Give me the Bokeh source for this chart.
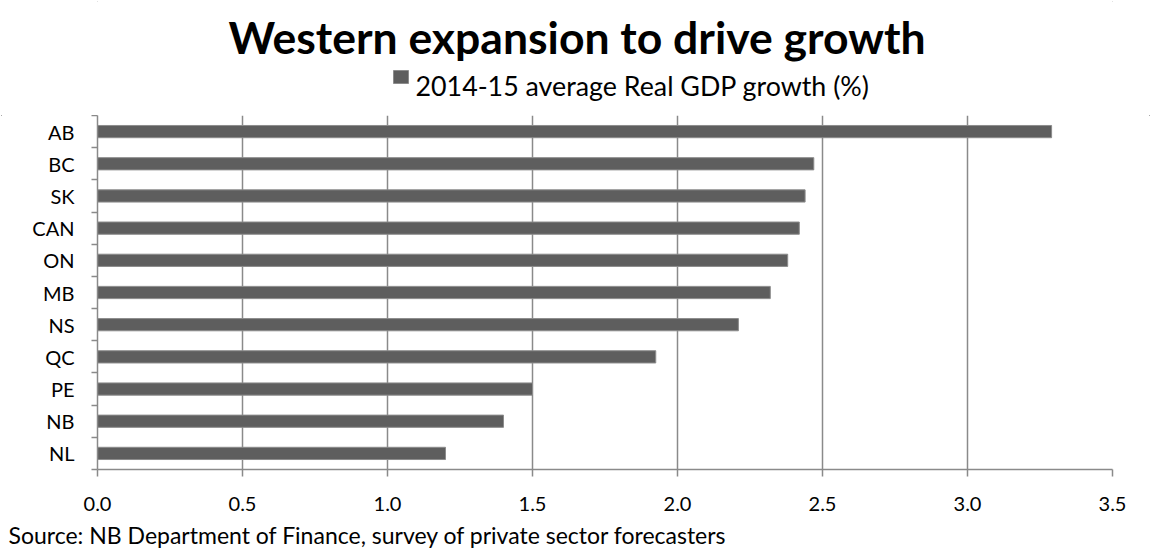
from bokeh.plotting import figure
from bokeh.layouts import column
from bokeh.models import FixedTicker, Title, ColumnDataSource, Range1d
from bokeh.core.properties import value
from bokeh.embed import file_html
from bokeh.resources import INLINE

# ---- data ----
regions = ["AB", "BC", "SK", "CAN", "ON", "MB", "NS", "QC", "PE", "NB", "NL"]
growth = [3.29, 2.47, 2.44, 2.42, 2.38, 2.32, 2.21, 1.925, 1.50, 1.40, 1.20]
x_ticks = [0.0, 0.5, 1.0, 1.5, 2.0, 2.5, 3.0, 3.5]
x_tick_labels = ["0.0", "0.5", "1.0", "1.5", "2.0", "2.5", "3.0", "3.5"]
title_text = "Western expansion to drive growth"
series_name = "2014-15 average Real GDP growth (%)"
source_note = "Source: NB Department of Finance, survey of private sector forecasters"

FONT = "Lato"
GRAY = "#8a8a8a"
BAR = "#5e5e5e"
EDGE = "#8c8c8c"

W, TOP_H, MAIN_H = 1151, 115, 444
LEFT, RIGHT = 97, 1112   # page x of the plot frame

# ---- header (title + legend key), page-pixel coordinates ----
top = figure(width=W, height=TOP_H, x_range=Range1d(LEFT, RIGHT), y_range=Range1d(TOP_H, 0),
             output_backend="svg", toolbar_location=None, title=None,
             min_border_left=LEFT, min_border_right=W - RIGHT, min_border_top=0, min_border_bottom=0,
             x_axis_location=None, y_axis_location=None)
top.outline_line_color = None
top.grid.visible = False
top.text(x=[576.5], y=[36], text=[title_text], text_align="center", text_baseline="alphabetic",
         text_font=value(FONT), text_font_style="bold", text_font_size="44.5px", text_color="black")
top.rect(x=[400.5], y=[76.5], width=15, height=13, fill_color=BAR, line_color=EDGE, line_width=1)
top.text(x=[415], y=[85], text=[series_name], text_align="left", text_baseline="alphabetic",
         text_font=value(FONT), text_font_size="26.8px", text_color="black")

# ---- main bar chart ----
n = len(regions)
ypos = [n - i - 0.5 for i in range(n)]
src = ColumnDataSource(dict(y=ypos, right=growth, region=regions))

p = figure(width=W, height=MAIN_H, x_range=Range1d(0, 3.5), y_range=Range1d(0, n),
           output_backend="svg", toolbar_location=None, title=None,
           min_border_left=LEFT, min_border_right=W - RIGHT, min_border_top=0, min_border_bottom=90)
p.outline_line_color = None

p.hbar(y="y", right="right", left=0, height=0.38, source=src,
       fill_color=BAR, line_color=EDGE, line_width=1)

xa = p.xaxis[0]
xa.ticker = FixedTicker(ticks=x_ticks, minor_ticks=[])
xa.major_label_overrides = {t: l for t, l in zip(x_ticks, x_tick_labels)}
xa.axis_line_color = GRAY
xa.axis_line_width = 1.5
xa.major_tick_line_color = GRAY
xa.major_tick_line_width = 1.5
xa.major_tick_out = 7
xa.major_tick_in = 0
xa.minor_tick_line_color = None
xa.major_label_text_font = FONT
xa.major_label_text_font_size = "20px"
xa.major_label_text_color = "black"
xa.major_label_standoff = 20

ya = p.yaxis[0]
ya.ticker = FixedTicker(ticks=ypos, minor_ticks=list(range(n + 1)))
ya.major_label_overrides = {y: lab for y, lab in zip(ypos, regions)}
ya.axis_line_color = GRAY
ya.axis_line_width = 1.5
ya.major_tick_line_color = None
ya.major_tick_out = 0
ya.major_tick_in = 0
ya.minor_tick_line_color = GRAY
ya.minor_tick_line_width = 1.5
ya.minor_tick_out = 6
ya.minor_tick_in = 0
ya.major_label_text_font = FONT
ya.major_label_text_font_size = "20px"
ya.major_label_text_color = "black"
ya.major_label_standoff = 17

p.xgrid.ticker = FixedTicker(ticks=x_ticks)
p.xgrid.grid_line_color = GRAY
p.xgrid.grid_line_width = 1.5
p.ygrid.grid_line_color = None

p.add_layout(Title(text=source_note, align="left", offset=8 - LEFT, standoff=10,
                   text_font=FONT, text_font_style="normal", text_font_size="23px",
                   text_color="black"), "below")

layout = column(top, p, spacing=0)
layout.styles = {"outline": "1px solid #8c8c8c", "outline-offset": "-2px"}

open("out.html", "w").write(file_html(layout, INLINE))
